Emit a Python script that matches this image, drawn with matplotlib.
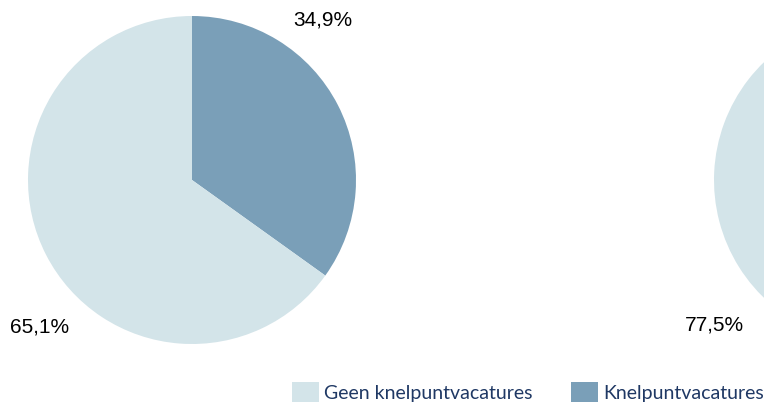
import numpy as np
import matplotlib.pyplot as plt
from matplotlib.patches import Patch

categories = ["Geen knelpuntvacatures", "Knelpuntvacatures"]
pie_left = [65.1, 34.9]
pie_right = [77.5, 22.5]

LIGHT = "#d3e4e9"
DARK = "#7a9fb8"
NAVY = "#1f3864"

# label placement (angle in degrees, distance in radii) per slice: (light, dark)
# None = label falls outside the visible figure
label_pos_left = [(-136, 1.29), (50.7, 1.26)]
label_pos_right = [(-138.5, 1.335), None]


def fmt(v):
    return f"{v:.1f}".replace(".", ",") + "%"


def draw_pie(ax, values, label_pos):
    # dark slice first so it starts at 12 o'clock going clockwise
    ax.pie([values[1], values[0]], colors=[DARK, LIGHT], startangle=90,
           counterclock=False, radius=1, wedgeprops=dict(linewidth=0))
    for v, pos in zip(values, label_pos):
        if pos is None:
            continue
        ang, dist = pos
        a = np.deg2rad(ang)
        ax.text(dist * np.cos(a), dist * np.sin(a), fmt(v), ha="center",
                va="center", fontsize=15, family="Liberation Sans",
                color="black", clip_on=False)
    ax.set_xlim(-1, 1)
    ax.set_ylim(-1, 1)
    ax.set_aspect("auto")
    ax.axis("off")


fig = plt.figure(figsize=(7.64, 4.08), dpi=100)
W, H = 764, 408
R = 164
size = 2 * R

ax1 = fig.add_axes([(192 - R) / W, (H - 180 - R) / H, size / W, size / H])
draw_pie(ax1, pie_left, label_pos_left)

ax2 = fig.add_axes([(878 - R) / W, (H - 180 - R) / H, size / W, size / H])
draw_pie(ax2, pie_right, label_pos_right)

handles = [Patch(facecolor=LIGHT, edgecolor="none"),
           Patch(facecolor=DARK, edgecolor="none")]
fig.legend(handles, categories, loc="center right",
           bbox_to_anchor=(1.0, 1 - 392 / H), ncol=2, frameon=False,
           prop=dict(family="Lato", size=14), labelcolor=NAVY,
           handlelength=1.4, handleheight=1.25, handletextpad=0.25,
           columnspacing=2.0, borderaxespad=0.0, borderpad=0.0)

fig.savefig("out.png", dpi=100)
